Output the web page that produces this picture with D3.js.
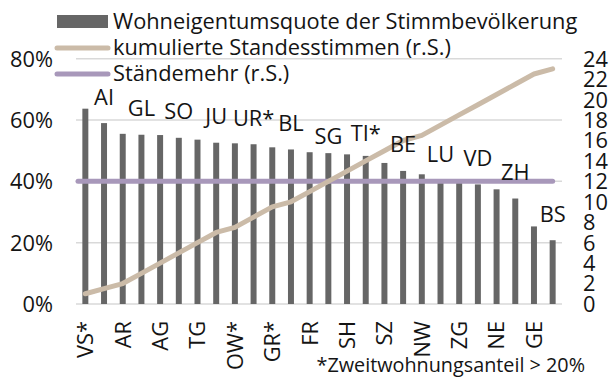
<!DOCTYPE html>
<html>
<head>
<meta charset="utf-8">
<script src="https://cdn.jsdelivr.net/npm/d3@7"></script>
<style>
  html, body { margin: 0; padding: 0; background: #fff; }
  svg { display: block; }
  text { font-family: "Open Sans", "Noto Sans", sans-serif; fill: #141414; }
</style>
</head>
<body>
<svg id="chart" width="611" height="378"></svg>
<script>
// Cantons, sorted by home-ownership rate of the voting population
const cantons = ["VS*", "AI", "AR", "GL", "AG", "SO", "TG", "JU", "OW*", "UR*", "GR*", "BL", "FR",
                 "SG", "SH", "TI*", "SZ", "BE", "NW", "LU", "ZG", "VD", "NE", "ZH", "GE", "BS"];
// Wohneigentumsquote der Stimmbevölkerung, in percent
const ownershipRate = [63.7, 59.0, 55.5, 55.2, 55.1, 54.2, 53.6, 52.6, 52.4, 52.1, 51.1, 50.4, 49.5,
                       49.2, 48.8, 48.3, 46.0, 43.4, 42.3, 40.3, 39.8, 39.0, 37.4, 34.4, 25.3, 20.8];
// Kumulierte Standesstimmen (right scale)
const cumulativeVotes = [1, 1.5, 2, 3, 4, 5, 6, 7, 7.5, 8.5, 9.5, 10, 11,
                         12, 13, 14, 15, 16, 16.5, 17.5, 18.5, 19.5, 20.5, 21.5, 22.5, 23];
// Ständemehr threshold (right scale)
const majorityVotes = [12];
// Axis ticks
const leftTicks = [0, 20, 40, 60, 80];
const rightTicks = [0, 2, 4, 6, 8, 10, 12, 14, 16, 18, 20, 22, 24];
const legendLabels = ["Wohneigentumsquote der Stimmbevölkerung",
                      "kumulierte Standesstimmen (r.S.)",
                      "Ständemehr (r.S.)"];
const footnote = "*Zweitwohnungsanteil > 20%";

const colors = { bar: "#666666", cum: "#cbbba8", maj: "#a898ba", grid: "#d9d9d9" };
const fontSize = 21.8;

const svg = d3.select("#chart");
const plot = { left: 76, right: 562, top: 58.7, bottom: 304 };

const x = d3.scaleBand().domain(cantons).range([plot.left, plot.right]).paddingInner(0.68).paddingOuter(0.34);
const yL = d3.scaleLinear().domain([0, 80]).range([plot.bottom, plot.top]);
const yR = d3.scaleLinear().domain([0, 24]).range([plot.bottom, plot.top]);
const cx = c => x(c) + x.bandwidth() / 2;

// Gridlines
svg.append("g").selectAll("line").data(leftTicks).join("line")
  .attr("x1", plot.left).attr("x2", plot.right)
  .attr("y1", d => yL(d)).attr("y2", d => yL(d))
  .attr("stroke", colors.grid).attr("stroke-width", 1.5);

// Left axis (percent)
const leftAxis = svg.append("g").attr("transform", `translate(${plot.left - 23},0)`)
  .call(d3.axisLeft(yL).tickValues(leftTicks).tickSize(0).tickPadding(0).tickFormat(d => d + "%"));
leftAxis.select(".domain").remove();
leftAxis.selectAll("text").attr("font-size", fontSize).attr("dy", "0.34em");

// Right axis (Standesstimmen), tightly stacked labels
const rightAxis = svg.append("g").attr("transform", `translate(${plot.right + 21},0)`)
  .call(d3.axisRight(yR).tickValues(rightTicks).tickSize(0).tickPadding(0));
rightAxis.select(".domain").remove();
rightAxis.selectAll("text").attr("font-size", fontSize).attr("dy", "0.34em");

// Bars
svg.append("g").selectAll("rect").data(cantons).join("rect")
  .attr("x", c => x(c)).attr("width", x.bandwidth())
  .attr("y", (c, i) => yL(ownershipRate[i]))
  .attr("height", (c, i) => plot.bottom - yL(ownershipRate[i]))
  .attr("fill", colors.bar);

// Ständemehr line
svg.append("line")
  .attr("x1", plot.left + 2).attr("x2", cx(cantons[cantons.length - 1]))
  .attr("y1", yR(majorityVotes[0])).attr("y2", yR(majorityVotes[0]))
  .attr("stroke", colors.maj).attr("stroke-width", 5).attr("stroke-linecap", "round");

// Cumulative Standesstimmen line
const line = d3.line().x((d, i) => cx(cantons[i])).y(d => yR(d));
svg.append("path").datum(cumulativeVotes)
  .attr("d", line).attr("fill", "none")
  .attr("stroke", colors.cum).attr("stroke-width", 5)
  .attr("stroke-linejoin", "round").attr("stroke-linecap", "round");

// X axis labels (every other canton), rotated
const xAxis = svg.append("g").attr("transform", `translate(0,${plot.bottom + 17})`)
  .call(d3.axisBottom(x).tickValues(cantons.filter((c, i) => i % 2 === 0)).tickSize(0).tickPadding(0));
xAxis.select(".domain").remove();
xAxis.selectAll("text")
  .attr("font-size", fontSize)
  .attr("transform", "rotate(-90)")
  .attr("text-anchor", "end")
  .attr("x", 0).attr("y", 0).attr("dy", "0.36em");

// Labels above the other cantons' bars
const labelNudge = { "SG": 9, "TI*": 4 };
svg.append("g").selectAll("text")
  .data(cantons.map((c, i) => ({ c, v: ownershipRate[i] })).filter((d, i) => i % 2 === 1))
  .join("text")
  .attr("x", d => cx(d.c)).attr("y", d => yL(d.v) - 18.5 + (labelNudge[d.c] || 0))
  .attr("text-anchor", "middle").attr("font-size", fontSize)
  .text(d => d.c);

// Legend
const legend = svg.append("g");
const legendY = [28.5, 54.5, 80.5];
legend.append("rect").attr("x", 57).attr("y", 15).attr("width", 51).attr("height", 13).attr("fill", colors.bar);
legend.append("line").attr("x1", 57).attr("x2", 108).attr("y1", 48).attr("y2", 48)
  .attr("stroke", colors.cum).attr("stroke-width", 5).attr("stroke-linecap", "round");
legend.append("line").attr("x1", 57).attr("x2", 108).attr("y1", 74).attr("y2", 74)
  .attr("stroke", colors.maj).attr("stroke-width", 5).attr("stroke-linecap", "round");
legend.selectAll("text.lg").data(legendLabels).join("text")
  .attr("class", "lg").attr("x", 113).attr("y", (d, i) => legendY[i])
  .attr("font-size", fontSize).text(d => d);

// Footnote
svg.append("text").attr("x", 585).attr("y", 372).attr("text-anchor", "end")
  .attr("font-size", 19.8).text(footnote);
</script>
</body>
</html>
